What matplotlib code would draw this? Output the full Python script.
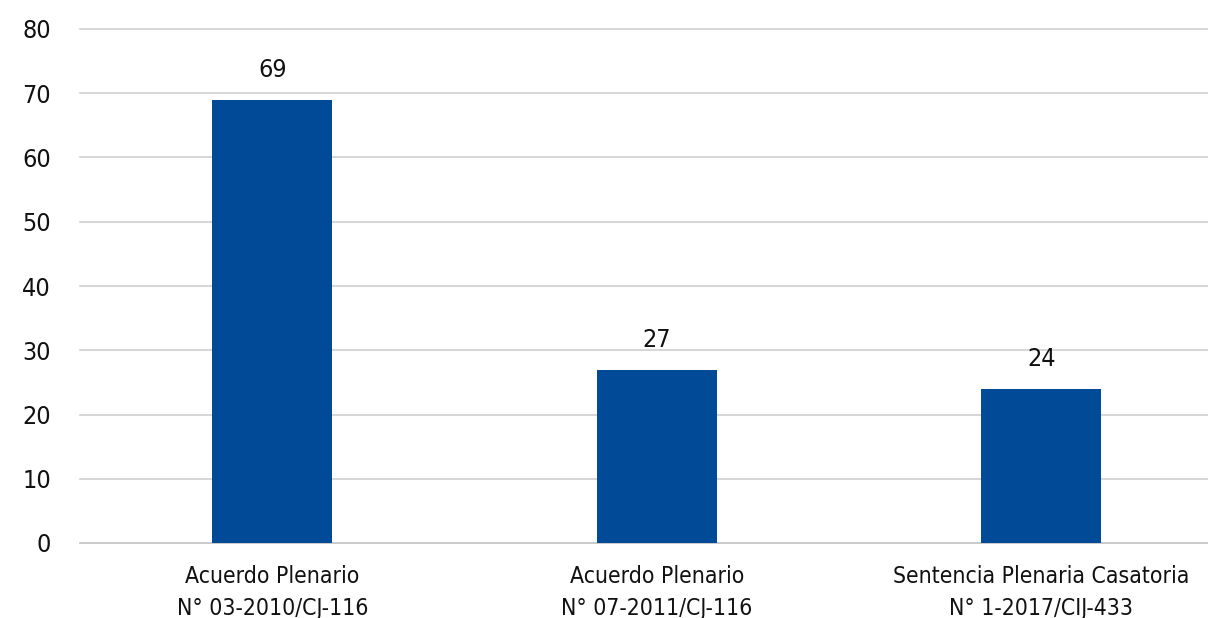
import matplotlib.pyplot as plt

categories = ["Acuerdo Plenario\nN° 03-2010/CJ-116",
              "Acuerdo Plenario\nN° 07-2011/CJ-116",
              "Sentencia Plenaria Casatoria\nN° 1-2017/CIJ-433"]
values = [69, 27, 24]
yticks = [0, 10, 20, 30, 40, 50, 60, 70, 80]

plt.rcParams['font.family'] = ['DejaVu Sans']
plt.rcParams['font.stretch'] = 'condensed'

fig = plt.figure(figsize=(12.08, 6.18), dpi=100)
# axes runs a bit past the right edge, like the original crop
ax = fig.add_axes([80 / 1208, 1 - 543 / 618, 1153.5 / 1208, (543 - 29) / 618])

x = range(len(categories))
ax.bar(x, values, width=0.312, color='#004A97', zorder=3)
for xi, v in zip(x, values):
    ax.text(xi, v + 2.7, str(v), ha='center', va='bottom', fontsize=18, color='#111111')

ax.set_xlim(-0.5, 2.5)
ax.set_ylim(0, 80)
ax.set_yticks(yticks)
ax.set_yticklabels([str(t) for t in yticks], fontsize=18, color='#111111')
ax.set_xticks(list(x))
ax.set_xticklabels(categories, fontsize=16.5, color='#111111', linespacing=1.5)
ax.tick_params(axis='both', length=0)
ax.tick_params(axis='y', pad=21)
ax.tick_params(axis='x', pad=16)

ax.grid(axis='y', color='#d0d0d0', linewidth=1.2, zorder=0)
for line in ax.get_ygridlines():
    line.set_clip_on(False)
for s in ['top', 'right', 'left']:
    ax.spines[s].set_visible(False)
ax.spines['bottom'].set_color('#c8c8c8')
ax.spines['bottom'].set_linewidth(1.2)

fig.savefig('out.png', dpi=100)
